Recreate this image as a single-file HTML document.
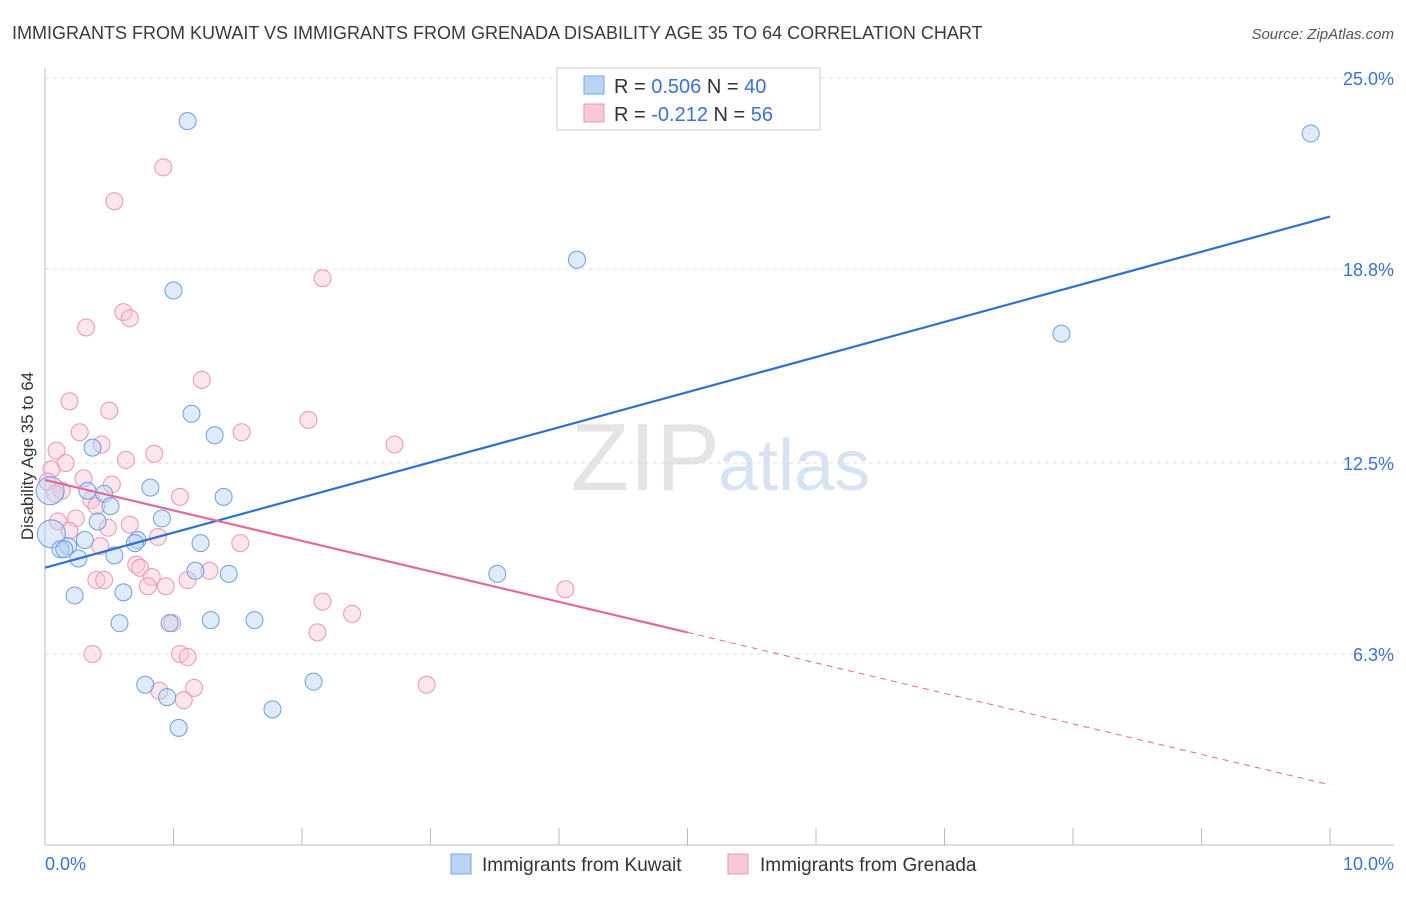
<!DOCTYPE html>
<html><head><meta charset="utf-8"><style>
body{margin:0;background:#fff;font-family:"Liberation Sans",sans-serif}
svg text{font-family:"Liberation Sans",sans-serif}
</style></head><body>
<svg id="chart" width="1406" height="892" xmlns="http://www.w3.org/2000/svg">
<text x="12" y="39" font-size="18" fill="#3a3a3a">IMMIGRANTS FROM KUWAIT VS IMMIGRANTS FROM GRENADA DISABILITY AGE 35 TO 64 CORRELATION CHART</text>
<text x="1394" y="39" font-size="15" fill="#555" text-anchor="end" font-style="italic">Source: ZipAtlas.com</text>
<text x="720" y="490" font-size="96" fill="#e4e4e4" text-anchor="end" font-family="Liberation Serif">ZIP</text>
<text x="718" y="490" font-size="72" fill="#d6e3f3">atlas</text>
<text transform="translate(33,456) rotate(-90)" font-size="17" fill="#333" text-anchor="middle">Disability Age 35 to 64</text>
<g id="grid"></g><g id="pts"></g><g id="lines"></g>
<g>
<rect x="557" y="68" width="263" height="62" fill="#fff" stroke="#ccc"/>
<rect x="584" y="76" width="20" height="18" fill="#b9d3f5" stroke="#7aa6e0"/>
<rect x="584" y="104" width="20" height="18" fill="#f9c6d5" stroke="#ec97b2"/>
<text x="614" y="93" font-size="20" fill="#333">R = <tspan fill="#3b72d6">0.506</tspan>   N = <tspan fill="#3b72d6">40</tspan></text>
<text x="614" y="121" font-size="20" fill="#333">R = <tspan fill="#3b72d6">-0.212</tspan>   N = <tspan fill="#3b72d6">56</tspan></text>
</g>
<g>
<rect x="451" y="854" width="20" height="20" fill="#b9d3f5" stroke="#7aa6e0"/>
<text x="482" y="871" font-size="19" fill="#333">Immigrants from Kuwait</text>
<rect x="728" y="854" width="20" height="20" fill="#f9c6d5" stroke="#ec97b2"/>
<text x="760" y="871" font-size="19" fill="#333">Immigrants from Grenada</text>
</g>
<text x="45" y="870" font-size="18" fill="#3b72d6">0.0%</text>
<text x="1394" y="870" font-size="18" fill="#3b72d6" text-anchor="end">10.0%</text>
</svg>
<script>
const yTicks=[25.0,18.8,12.5,6.3];
const yTickLabels=["25.0%","18.8%","12.5%","6.3%"];
const xTicks=[0,1,2,3,4,5,6,7,8,9,10];
const kuwaitX=[1.11,9.85,4.14,1.00,7.91,1.14,1.32,0.37,0.82,0.33,0.46,1.39,0.51,0.41,0.91,0.05,0.31,0.72,0.70,1.21,0.18,0.12,0.26,0.54,1.17,1.43,3.52,0.23,0.61,0.58,1.29,1.63,0.97,0.78,2.09,0.95,1.77,1.04,0.04,0.15];
const kuwaitY=[23.6,23.2,19.1,18.1,16.7,14.1,13.4,13.0,11.7,11.6,11.5,11.4,11.1,10.6,10.7,10.2,10.0,10.0,9.9,9.9,9.8,9.7,9.4,9.5,9.0,8.9,8.9,8.2,8.3,7.3,7.4,7.4,7.3,5.3,5.4,4.9,4.5,3.9,11.6,9.7];
const grenadaX=[0.92,0.54,2.16,0.61,0.66,0.32,1.22,0.19,0.50,2.05,1.53,0.27,0.44,2.72,0.85,0.63,0.09,0.16,0.05,0.30,0.02,0.13,1.05,0.52,0.36,0.40,0.10,0.24,0.66,0.19,0.88,1.52,0.43,0.71,0.74,0.83,1.28,1.11,0.40,0.46,0.80,0.94,4.05,2.16,2.39,0.99,2.12,0.37,1.05,1.11,1.16,0.89,1.08,2.97,0.49,0.08];
const grenadaY=[22.1,21.0,18.5,17.4,17.2,16.9,15.2,14.5,14.2,13.9,13.5,13.5,13.1,13.1,12.8,12.6,12.9,12.5,12.3,12.0,11.9,11.6,11.4,11.8,11.3,11.1,10.6,10.7,10.5,10.3,10.1,9.9,9.8,9.2,9.1,8.8,9.0,8.7,8.7,8.7,8.5,8.5,8.4,8.0,7.6,7.3,7.0,6.3,6.3,6.2,5.2,5.1,4.8,5.3,10.4,11.5];
const kuwaitTrend=[[0,9.1],[10,20.5]];
const grenadaTrend=[[0,11.95],[5,7.0],[10,2.05]];
const NS="http://www.w3.org/2000/svg";
const xs=v=>45+v*128.5, ys=v=>848-v*30.8;
function mk(t,a,p){const e=document.createElementNS(NS,t);for(const k in a)e.setAttribute(k,a[k]);p.appendChild(e);return e;}
const grid=document.getElementById('grid');
yTicks.forEach((v,i)=>{
 const l=mk('line',{x1:45,x2:1394,y1:ys(v),y2:ys(v),stroke:'#ddd','stroke-dasharray':'4,4'},grid);
 
 
 const t=mk('text',{x:1394,y:ys(v)+7,'font-size':18,fill:'#3b72d6','text-anchor':'end'},grid);t.textContent=yTickLabels[i];
 
 
});
const ax=mk('line',{x1:45,x2:45,y1:68,y2:845,stroke:'#bbb'},grid);


const bx=mk('line',{x1:45,x2:1394,y1:845,y2:845,stroke:'#bbb'},grid);


xTicks.forEach(v=>{const t=mk('line',{x1:xs(v),x2:xs(v),y1:828,y2:845,stroke:'#bbb'},grid);
 
 });
const pts=document.getElementById('pts');
function draw(X,Y,fill,stroke,name){X.forEach((x,i)=>{
 const big=(x<0.06&&(Y[i]===10.2||Y[i]===11.6));
 const c=mk('circle',{cx:xs(x),cy:ys(Y[i]),r:big?14:8.5,fill:fill,'fill-opacity':0.45,stroke:stroke,'stroke-width':1},pts);
 
 });}
draw(grenadaX,grenadaY,'#f9c6d5','#ec97b2','grenada-point');
draw(kuwaitX,kuwaitY,'#b9d3f5','#6f9fe0','kuwait-point');
const lines=document.getElementById('lines');
const kb=mk('line',{x1:xs(kuwaitTrend[0][0]),y1:ys(kuwaitTrend[0][1]),x2:xs(kuwaitTrend[1][0]),y2:ys(kuwaitTrend[1][1]),stroke:'#2f6fd6','stroke-width':2.2},lines);


const gs=mk('line',{x1:xs(grenadaTrend[0][0]),y1:ys(grenadaTrend[0][1]),x2:xs(grenadaTrend[1][0]),y2:ys(grenadaTrend[1][1]),stroke:'#e8679a','stroke-width':2.2},lines);


const gd=mk('line',{x1:xs(grenadaTrend[1][0]),y1:ys(grenadaTrend[1][1]),x2:xs(grenadaTrend[2][0]),y2:ys(grenadaTrend[2][1]),stroke:'#e8679a','stroke-width':1,'stroke-dasharray':'6,5'},lines);


</script>
</body></html>
